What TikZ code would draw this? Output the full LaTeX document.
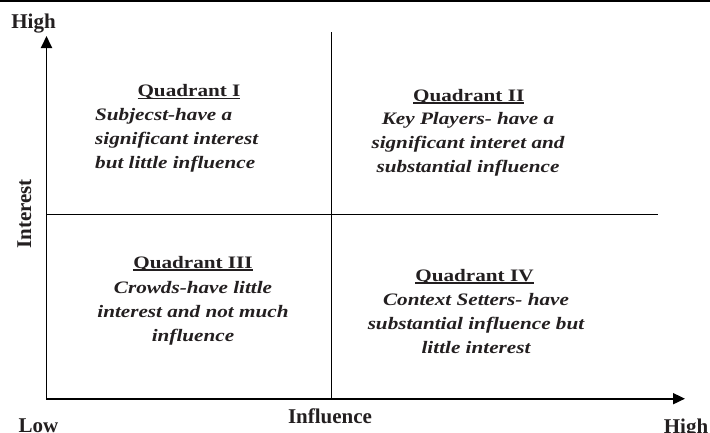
\documentclass[tikz,border=0pt]{standalone}
\usepackage{fontspec}
\setmainfont{Liberation Serif}
\newfontfamily\qfont[FakeStretch=1.21]{Liberation Serif}
\usetikzlibrary{arrows.meta}
\definecolor{ink}{RGB}{35,31,32}
\newcommand\qtitletext[1]{\setbox0\hbox{#1}\rlap{\rule[-2.6pt]{\wd0}{1.4pt}}\box0}
\begin{document}
\begin{tikzpicture}[x=1pt,y=-1pt,
  axis/.style={line width=1.8pt, {Triangle[length=12pt,width=11pt]}-{Triangle[length=12pt,width=11pt]}},
  divider/.style={line width=1.6pt},
  axlabel/.style={inner sep=0pt, anchor=base, text=ink, font=\fontsize{21}{25}\selectfont\bfseries},
  qtitle/.style={inner sep=0pt, anchor=base, text=ink, font=\qfont\fontsize{17.5}{24}\selectfont\bfseries},
  qbody/.style={inner sep=0pt, anchor=base, text=ink, font=\qfont\fontsize{17.5}{24}\selectfont\bfseries\itshape},
]
\useasboundingbox (0,0) rectangle (710,432);
% frame line at top
\coordinate (tl) at (0,1);
\coordinate (tr) at (710,1);
\draw[line width=2pt] (tl) -- (tr);
% axes
\coordinate (O) at (46.5,398.7);
\coordinate (ytip) at (46.5,36);
\coordinate (xtip) at (685,398.7);
\draw[axis] (ytip) -- (O) -- (xtip);
% dividers
\coordinate (mtop) at (331.5,32);
\coordinate (mbot) at (331.5,398.7);
\coordinate (hl) at (46.5,214.5);
\coordinate (hr) at (658,214.5);
\draw[divider] (mtop) -- (mbot);
\draw[divider] (hl) -- (hr);
% axis labels
\node[axlabel] (hightop) at (33.5,28.3) {High};
\node[axlabel, rotate=90] (interest) at (31,214) {Interest};
\node[axlabel] (low) at (38.5,432) {Low};
\node[axlabel] (influence) at (330,423) {Influence};
\node[axlabel] (highright) at (686,433) {High};
% quadrants (body anchors sit on the last line's baseline)
\node[qtitle] (q1t) at (189,96.3) {\qtitletext{Quadrant I}};
\node[qbody, align=left, anchor=base west] (q1b) at (95,168) {Subjecst-have a\\significant interest\\but little influence};
\node[qtitle] (q2t) at (468.7,101) {\qtitletext{Quadrant II}};
\node[qbody, align=center] (q2b) at (468,172) {Key Players- have a\\significant interet and\\substantial influence};
\node[qtitle] (q3t) at (193,268) {\qtitletext{Quadrant III}};
\node[qbody, align=center] (q3b) at (193,341.7) {Crowds-have little\\interest and not much\\influence};
\node[qtitle] (q4t) at (474.5,281) {\qtitletext{Quadrant IV}};
\node[qbody, align=center] (q4b) at (476,353) {Context Setters- have\\substantial influence but\\little interest};
\end{tikzpicture}
\end{document}
